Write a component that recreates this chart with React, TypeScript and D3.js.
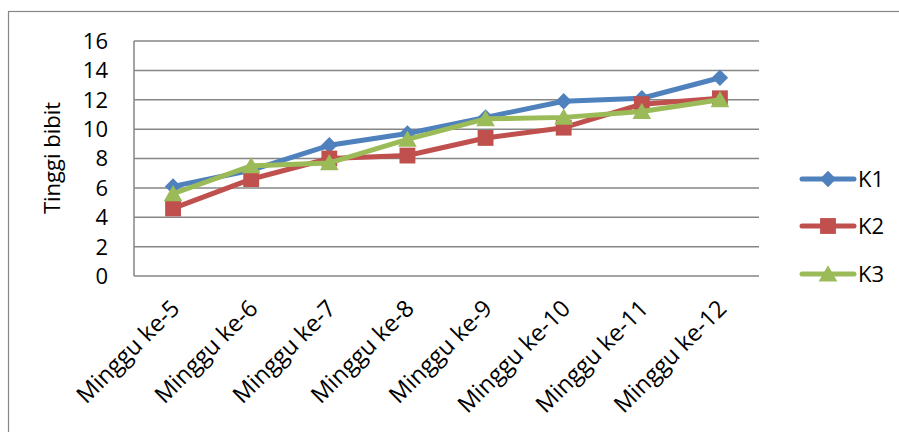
import React, { useRef, useEffect } from "react";
import * as d3 from "d3";

const categories = ["Minggu ke-5", "Minggu ke-6", "Minggu ke-7", "Minggu ke-8", "Minggu ke-9", "Minggu ke-10", "Minggu ke-11", "Minggu ke-12"];
const k1 = [6.1, 7.2, 8.9, 9.7, 10.8, 11.9, 12.1, 13.5];
const k2 = [4.6, 6.6, 8.0, 8.2, 9.4, 10.1, 11.7, 12.1];
const k3 = [5.6, 7.5, 7.7, 9.3, 10.7, 10.8, 11.2, 12.0];
const yTicks = [0, 2, 4, 6, 8, 10, 12, 14, 16];
const seriesNames = ["K1", "K2", "K3"];

const series = [
  { name: seriesNames[0], values: k1, color: "#4F81BD", marker: "diamond" },
  { name: seriesNames[1], values: k2, color: "#C0504D", marker: "square" },
  { name: seriesNames[2], values: k3, color: "#9BBB59", marker: "triangle" },
];

const W = 899, H = 432;
const FONT = "'Open Sans', sans-serif";

function markerPath(type: string) {
  if (type === "diamond") return d3.symbol(d3.symbolDiamond2, 170)();
  if (type === "square") return d3.symbol(d3.symbolSquare2, 320)();
  return d3.symbol(d3.symbolTriangle2, 250)();
}

export default function App() {
  const svgRef = useRef<SVGSVGElement>(null);

  useEffect(() => {
    const svg = d3.select(svgRef.current);
    svg.selectAll("*").remove();

    const left = 134, right = 759, top = 41, bottom = 276;
    const x = d3.scalePoint().domain(categories).range([left, right]).padding(0.5);
    const y = d3.scaleLinear().domain([0, 16]).range([bottom, top]);

    // outer chart border
    svg.append("rect").attr("x", 8.5).attr("y", 11.5).attr("width", 900).attr("height", 440)
      .attr("fill", "white").attr("stroke", "#868686").attr("stroke-width", 1.2);

    // gridlines
    svg.append("g").selectAll("line").data(yTicks.filter(d => d > 0)).join("line")
      .attr("x1", left).attr("x2", right)
      .attr("y1", d => y(d)).attr("y2", d => y(d))
      .attr("stroke", "#868686").attr("stroke-width", 1.5);

    // axes lines
    svg.append("line").attr("x1", left).attr("x2", left).attr("y1", top).attr("y2", bottom)
      .attr("stroke", "#868686").attr("stroke-width", 1.5);
    svg.append("line").attr("x1", left).attr("x2", right).attr("y1", bottom).attr("y2", bottom)
      .attr("stroke", "#868686").attr("stroke-width", 1.5);

    // y tick labels
    svg.append("g").selectAll("text").data(yTicks).join("text")
      .attr("x", 108).attr("y", d => y(d)).attr("dy", "0.36em")
      .attr("text-anchor", "end").attr("font-family", FONT).attr("font-size", 22).attr("fill", "#000")
      .text(d => d);

    // y title
    svg.append("text").attr("transform", "translate(60,158) rotate(-90)")
      .attr("text-anchor", "middle").attr("font-family", FONT).attr("font-size", 22)
      .text("Tinggi bibit");

    // x labels
    svg.append("g").selectAll("text").data(categories).join("text")
      .attr("transform", d => `translate(${(x(d) as number) + 8},${bottom + 34}) rotate(-45)`)
      .attr("text-anchor", "end").attr("font-family", FONT).attr("font-size", 23.5)
      .text(d => d);

    const line = d3.line<number>().x((_, i) => x(categories[i]) as number).y(d => y(d));

    series.forEach(s => {
      const g = svg.append("g");
      g.append("path").attr("d", line(s.values)).attr("fill", "none")
        .attr("stroke", s.color).attr("stroke-width", 5).attr("stroke-linejoin", "round");
      g.selectAll("path.m").data(s.values).join("path").attr("class", "m")
        .attr("transform", (d, i) => `translate(${x(categories[i])},${y(d) + (s.marker === "triangle" ? 2 : 0)})`)
        .attr("d", markerPath(s.marker)).attr("fill", s.color);
    });

    // legend
    const legendY = [179, 226, 274];
    series.forEach((s, i) => {
      const g = svg.append("g").attr("transform", `translate(0,${legendY[i]})`);
      g.append("line").attr("x1", 802).attr("x2", 854).attr("y1", 0).attr("y2", 0)
        .attr("stroke", s.color).attr("stroke-width", 5).attr("stroke-linecap", "round");
      g.append("path").attr("transform", `translate(828,${s.marker === "triangle" ? 2 : 0})`)
        .attr("d", markerPath(s.marker)).attr("fill", s.color);
      g.append("text").attr("x", 858).attr("y", 0).attr("dy", "0.36em")
        .attr("font-family", FONT).attr("font-size", 22).text(s.name);
    });
  }, []);

  return (
    <svg ref={svgRef} width={W} height={H}
      style={{ position: "absolute", left: 0, top: 0, display: "block", background: "white" }} />
  );
}
